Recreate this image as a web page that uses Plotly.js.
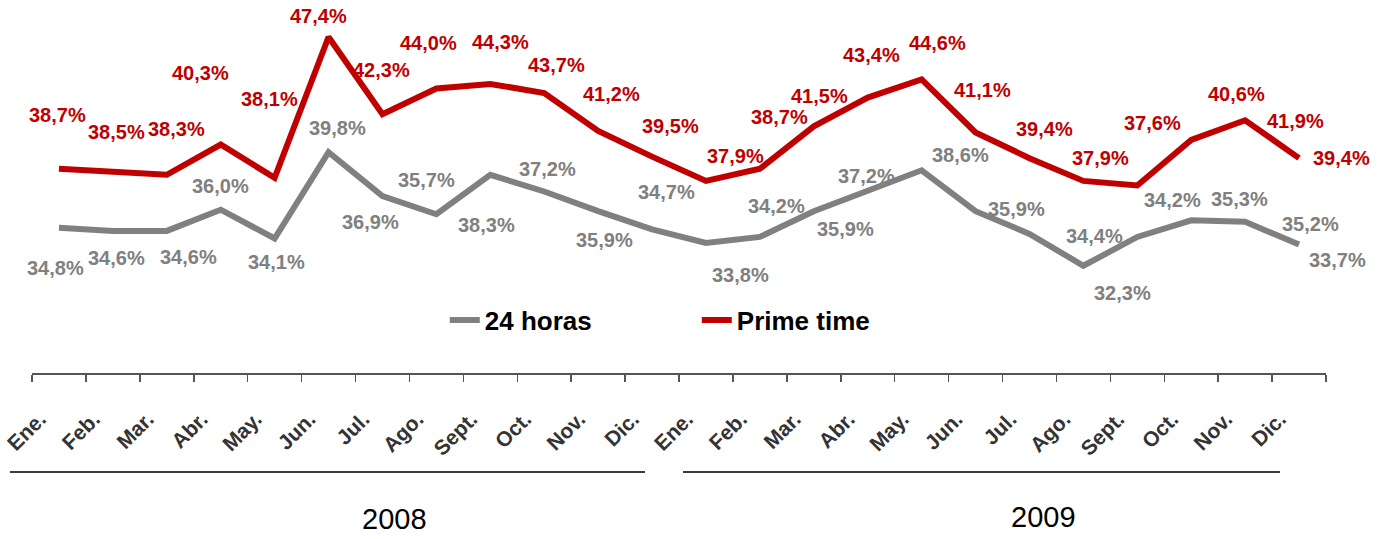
<!DOCTYPE html>
<html><head><meta charset="utf-8">
<script src="https://cdn.plot.ly/plotly-3.0.1.min.js"></script>
<style>html,body{margin:0;padding:0;background:#fff}#chart{width:1384px;height:539px}</style>
</head><body><div id="chart"></div>
<script>
// ---- data ----
const months = ['Ene.','Feb.','Mar.','Abr.','May.','Jun.','Jul.','Ago.','Sept.','Oct.','Nov.','Dic.',
                'Ene.','Feb.','Mar.','Abr.','May.','Jun.','Jul.','Ago.','Sept.','Oct.','Nov.','Dic.'];
const years = ['2008','2009'];
const seriesNames = ['24 horas','Prime time'];
const horas24   = [34.8,34.6,34.6,36.0,34.1,39.8,36.9,35.7,38.3,37.2,35.9,34.7,
                   33.8,34.2,35.9,37.2,38.6,35.9,34.4,32.3,34.2,35.3,35.2,33.7];
const primeTime = [38.7,38.5,38.3,40.3,38.1,47.4,42.3,44.0,44.3,43.7,41.2,39.5,
                   37.9,38.7,41.5,43.4,44.6,41.1,39.4,37.9,37.6,40.6,41.9,39.4];

// ---- style: label offsets (px, dx right / dy down) ----
const grayLabelOffset = [[-3,40],[4,27],[22,26],[0,-24],[2,24],[9,-24],[-12,26],[-10,-34],[-4,50],[3,-23],[6,29],[14,-37],
                         [35,32],[17,-31],[32,18],[-1,-16],[39,-15],[41,-2],[65,2],[39,27],[35,-37],[48,-21],[65,2],[38,15]];
const redLabelOffset  = [[-1,-54],[4,-40],[10,-46],[-20,-72],[-5,-79],[-10,-21],[-1,-44],[-8,-45],[10,-42],[12,-28],[13,-37],[18,-31],
                         [30,-25],[20,-52],[6,-30],[4,-43],[16,-36],[7,-42],[15,-29],[17,-23],[15,-62],[45,-46],[50,1],[42,0]];

const GRAY = '#808080', RED = '#c00000';
const FONT = 'Liberation Sans, Arial, sans-serif';
const xIdx = months.map((_, i) => i);
const bounds = xIdx.map(i => i - 0.5).concat([months.length - 0.5]);
const fmt = v => v.toFixed(1).replace('.', ',') + '%';

const traces = [
  {x: xIdx, y: horas24, name: seriesNames[0], type: 'scatter', mode: 'lines',
   line: {color: GRAY, width: 6}, hoverinfo: 'skip'},
  {x: xIdx, y: primeTime, name: seriesNames[1], type: 'scatter', mode: 'lines',
   line: {color: RED, width: 6}, hoverinfo: 'skip'}
];

const annotations = [];
function addLabels(vals, offs, color) {
  vals.forEach((v, i) => {
    annotations.push({x: i, y: v, xref: 'x', yref: 'y', text: fmt(v), showarrow: false,
      xanchor: 'center', yanchor: 'middle', xshift: offs[i][0], yshift: -offs[i][1],
      font: {family: FONT, size: 20, color: color, weight: 'bold'}});
  });
}
addLabels(horas24, grayLabelOffset, GRAY);
addLabels(primeTime, redLabelOffset, RED);

const yearPos = [[0.2800, -0.3914], [0.7813, -0.3861]];
years.forEach((yr, k) => {
  annotations.push({x: yearPos[k][0], y: yearPos[k][1], xref: 'paper', yref: 'paper', text: yr,
    showarrow: false, xanchor: 'center', yanchor: 'middle',
    font: {family: FONT, size: 29, color: '#000'}});
});

const shapes = [
  {type: 'line', xref: 'paper', yref: 'paper', x0: -0.017, x1: 0.4737, y0: -0.2654, y1: -0.2654,
   line: {color: '#3a3a3a', width: 2}},
  {type: 'line', xref: 'paper', yref: 'paper', x0: 0.5031, x1: 0.9645, y0: -0.2654, y1: -0.2654,
   line: {color: '#3a3a3a', width: 2}}
];

const layout = {
  width: 1384, height: 539, autosize: false,
  margin: {l: 32, r: 58, t: 0, b: 166},
  paper_bgcolor: '#fff', plot_bgcolor: '#fff',
  showlegend: true,
  legend: {orientation: 'h', x: 0.319, xanchor: 'left', y: 0.142, yanchor: 'middle',
           font: {family: FONT, size: 26, color: '#000', weight: 'bold'},
           entrywidth: 207, entrywidthmode: 'pixels', bgcolor: 'rgba(0,0,0,0)'},
  xaxis: {range: [-0.5, months.length - 0.5], tickmode: 'array', tickvals: xIdx, ticktext: months,
          tickangle: -45, ticks: '', showline: true, linecolor: '#555', linewidth: 1.5,
          showgrid: false, zeroline: false, fixedrange: true,
          tickfont: {family: FONT, size: 21, color: '#333', weight: 'bold'},
          ticklabelstandoff: 24, ticklabelshift: -19,
          minor: {tickmode: 'array', tickvals: bounds, ticks: 'outside', ticklen: 7,
                  tickcolor: '#555', tickwidth: 1.5, showgrid: false}},
  yaxis: {range: [25.22, 49.84], visible: false, fixedrange: true},
  annotations: annotations,
  shapes: shapes
};

Plotly.newPlot('chart', traces, layout, {displayModeBar: false, staticPlot: true});
</script>
</body></html>
